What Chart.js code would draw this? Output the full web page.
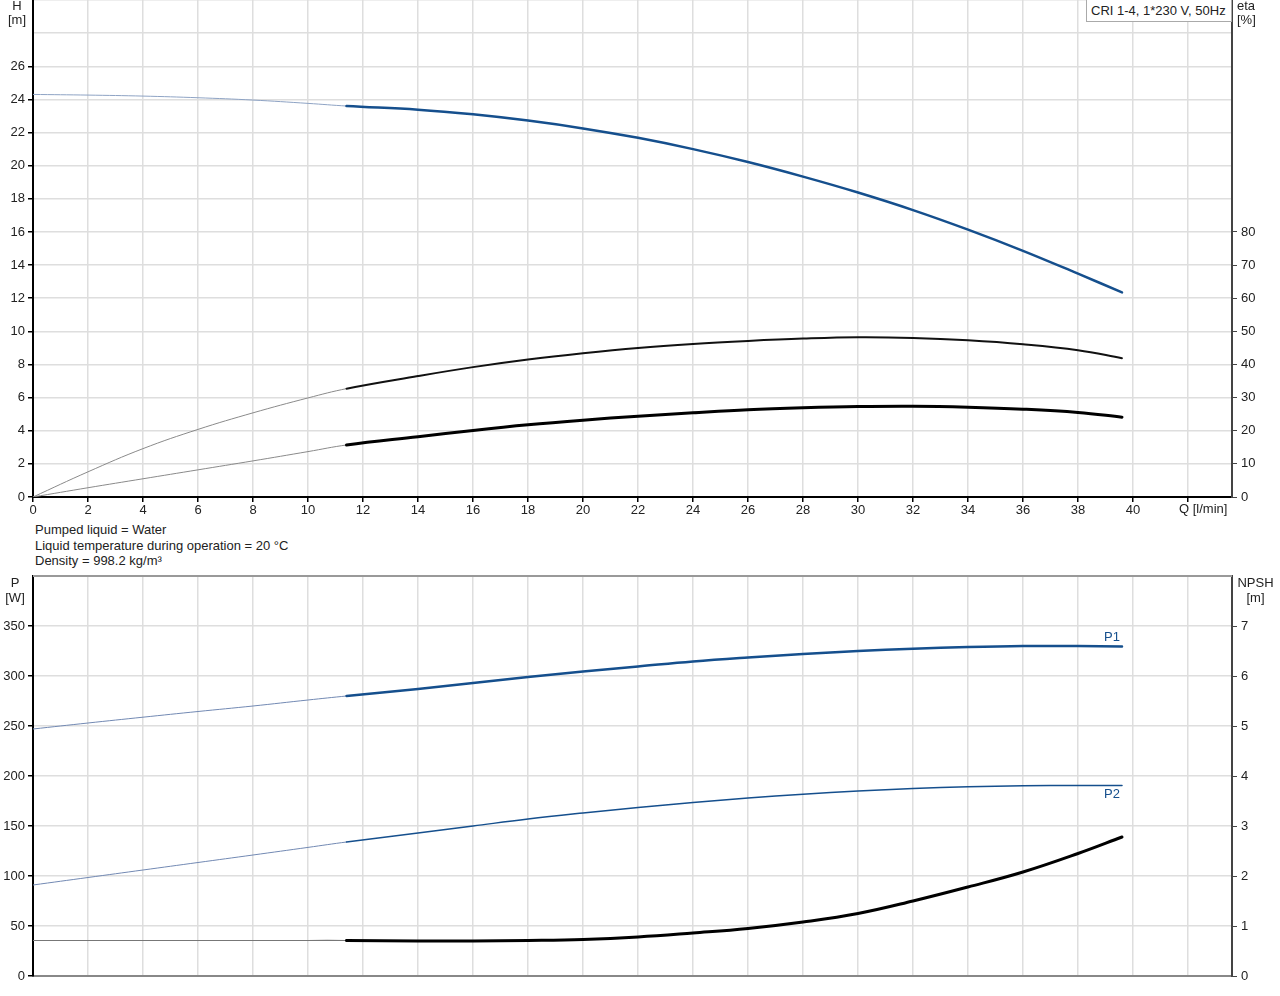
<!DOCTYPE html>
<html>
<head>
<meta charset="utf-8">
<script src="https://cdn.jsdelivr.net/npm/chart.js@4"></script>
<style>
  html, body { margin: 0; padding: 0; background: #fff; }
  body { width: 1280px; height: 996px; position: relative; overflow: hidden;
         font-family: "Liberation Sans", Arial, sans-serif; font-size: 13px; color: #222; }
  canvas { position: absolute; left: 0; }
  .lbl { position: absolute; line-height: 14px; white-space: nowrap; }
  .center { text-align: center; }
</style>
</head>
<body>
<canvas id="curveChart" width="1280" height="520" style="top:0"></canvas>
<canvas id="powerChart" width="1280" height="426" style="top:570px"></canvas>

<div class="lbl center" style="left:0;top:-1px;width:34px">H<br>[m]</div>
<div class="lbl" style="left:1237px;top:-1px">eta<br>[%]</div>
<div class="lbl" style="left:1086px;top:-1px;width:140px;height:21px;line-height:21px;padding-left:4px;border:1px solid #aaa;background:#fff">CRI 1-4, 1*230 V, 50Hz</div>
<div class="lbl" style="left:1179px;top:502px">Q [l/min]</div>
<div class="lbl" style="left:35px;top:522px;line-height:15.6px">Pumped liquid = Water<br>Liquid temperature during operation = 20 °C<br>Density = 998.2 kg/m³</div>
<div class="lbl center" style="left:0;top:575px;width:30px;line-height:15px">P<br>[W]</div>
<div class="lbl center" style="left:1237px;top:575px;width:37px;line-height:15px">NPSH<br>[m]</div>

<script>
// --- Data ---
// flow points (l/min); the curve is thin below SPLIT_Q and thick above it
const Q = [0, 2, 4, 6, 8, 10, 11.4, 14, 16, 18, 20, 22, 24, 26, 28, 30, 32, 34, 36, 38, 39.6];
const SPLIT_Q = 11.4;

// head (m)
const headH = [24.3, 24.26, 24.2, 24.1, 23.96, 23.76, 23.6, 23.38, 23.1, 22.72, 22.25, 21.68, 21.0, 20.22, 19.34, 18.38, 17.32, 16.14, 14.86, 13.48, 12.35];
// efficiencies (%)
const etaUpper = [0, 7.6, 14.6, 20.4, 25.4, 29.9, 32.7, 36.5, 39.2, 41.5, 43.4, 45.0, 46.2, 47.1, 47.8, 48.2, 48.0, 47.3, 46.1, 44.3, 41.9];
const etaLower = [0, 2.8, 5.5, 8.2, 10.9, 13.7, 15.7, 18.2, 20.1, 21.8, 23.2, 24.4, 25.4, 26.3, 26.9, 27.3, 27.4, 27.1, 26.5, 25.5, 24.1];
// power (W)
const powerP1 = [247, 253, 258.8, 264.5, 270, 276, 280, 287, 293, 299, 304.5, 309.5, 314.5, 318.5, 322, 325, 327.3, 329, 330, 330, 329.5];
const powerP2 = [91, 98.5, 106, 113.5, 121, 128.6, 134, 143, 150, 157, 163, 168.5, 173.5, 178, 181.8, 185, 187.5, 189.2, 190.2, 190.6, 190.5];
// NPSH (m)
const npsh = [0.71, 0.71, 0.71, 0.71, 0.71, 0.71, 0.71, 0.70, 0.70, 0.71, 0.73, 0.78, 0.86, 0.95, 1.08, 1.25, 1.5, 1.78, 2.08, 2.45, 2.78];

// axis ranges / tick settings
const Q_MAX = 43.6;
const H_MAX = 30, H_LAST_LABEL = 26;
const ETA_MAX = 150, ETA_LAST_LABEL = 80;
const P_MAX = 400, P_LAST_LABEL = 350;
const NPSH_MAX = 8, NPSH_LAST_LABEL = 7;

const BLUE = '#154f8d';
const FONT = { family: '"Liberation Sans", Arial, sans-serif', size: 13 };

Chart.defaults.animation = false;
Chart.defaults.font = FONT;
Chart.defaults.color = '#222';

function pts(ys) {
  return Q.map((q, i) => ({ x: q, y: ys[i] }));
}

// build a line dataset: thin light part before SPLIT_Q, heavier line after
function curve(ys, axis, thinColor, thickColor, thinW, thickW) {
  return {
    data: pts(ys),
    yAxisID: axis,
    borderColor: thickColor,
    borderWidth: thickW,
    pointRadius: 0,
    tension: 0.4,
    borderCapStyle: 'round',
    segment: {
      borderColor: ctx => ctx.p1.parsed.x <= SPLIT_Q ? thinColor : thickColor,
      borderWidth: ctx => ctx.p1.parsed.x <= SPLIT_Q ? thinW : thickW
    }
  };
}

// fixed axis sizes so both plots line up with the reference
function fixWidth(w) {
  return s => { s.width = w; s.paddingTop = 0; s.paddingBottom = 0; };
}
function fixHeight(h) {
  return s => { s.height = h; s.paddingLeft = 0; s.paddingRight = 0; };
}
function keepUpTo(limit) {
  return s => { s.ticks = s.ticks.filter(t => t.value <= limit + 1e-9); };
}

const GRID = '#dedede';

// --- Upper chart: H and eta vs Q ---
new Chart(document.getElementById('curveChart'), {
  type: 'line',
  data: {
    datasets: [
      curve(etaUpper, 'yEta', '#8a8a8a', '#111', 1, 2),
      curve(etaLower, 'yEta', '#8a8a8a', '#000', 1, 3),
      curve(headH, 'y', '#8ea3c4', BLUE, 1, 2.5)
    ]
  },
  options: {
    responsive: false,
    layout: { padding: 0 },
    plugins: { legend: { display: false }, tooltip: { enabled: false } },
    scales: {
      x: {
        type: 'linear', min: 0, max: Q_MAX,
        ticks: { stepSize: 2, includeBounds: false, padding: 1,
                 callback: v => v <= 40 ? String(v) : '' },
        grid: { color: GRID, lineWidth: 1.5, tickLength: 5, tickColor: '#000' },
        border: { color: '#000', width: 2 },
        afterFit: fixHeight(23)
      },
      y: {
        position: 'left', min: 0, max: H_MAX,
        ticks: { stepSize: 2, padding: 3,
                 callback: v => v <= H_LAST_LABEL ? String(v) : '' },
        grid: { color: GRID, lineWidth: 1.5, tickLength: 5,
                tickColor: c => c.tick && c.tick.value <= H_LAST_LABEL ? '#000' : 'transparent' },
        border: { color: '#000', width: 2 },
        afterFit: fixWidth(33)
      },
      yEta: {
        position: 'right', min: 0, max: ETA_MAX,
        ticks: { stepSize: 10, padding: 4 },
        afterBuildTicks: keepUpTo(ETA_LAST_LABEL),
        grid: { drawOnChartArea: false, tickLength: 5, tickColor: '#444' },
        border: { color: '#444', width: 2 },
        afterFit: fixWidth(48)
      }
    }
  }
});

// labels P1 / P2 next to the end of the power curves, plus the top frame line
const powerDecor = {
  id: 'powerDecor',
  afterDatasetsDraw(chart) {
    const { ctx, chartArea, scales } = chart;
    ctx.save();
    ctx.strokeStyle = '#999';
    ctx.lineWidth = 2;
    ctx.beginPath();
    ctx.moveTo(chartArea.left, chartArea.top);
    ctx.lineTo(chartArea.right, chartArea.top);
    ctx.stroke();

    const last = Q.length - 1;
    const xe = scales.x.getPixelForValue(Q[last]);
    ctx.fillStyle = BLUE;
    ctx.font = '13px "Liberation Sans", Arial, sans-serif';
    ctx.textAlign = 'right';
    ctx.textBaseline = 'middle';
    ctx.fillText('P1', xe - 2, scales.y.getPixelForValue(powerP1[last]) - 9);
    ctx.fillText('P2', xe - 2, scales.y.getPixelForValue(powerP2[last]) + 9);
    ctx.restore();
  }
};

// --- Lower chart: P1, P2 and NPSH vs Q ---
new Chart(document.getElementById('powerChart'), {
  type: 'line',
  data: {
    datasets: [
      curve(powerP1, 'y', '#7289b3', BLUE, 1, 2.5),
      curve(powerP2, 'y', '#7289b3', BLUE, 1, 1.5),
      curve(npsh, 'yNpsh', '#777', '#000', 1.2, 3)
    ]
  },
  plugins: [powerDecor],
  options: {
    responsive: false,
    layout: { padding: { top: 6 } },
    plugins: { legend: { display: false }, tooltip: { enabled: false } },
    scales: {
      x: {
        type: 'linear', min: 0, max: Q_MAX,
        ticks: { stepSize: 2, includeBounds: false, display: false },
        grid: { color: GRID, lineWidth: 1.5, drawTicks: false },
        border: { color: '#888', width: 2 },
        afterFit: fixHeight(20)
      },
      y: {
        position: 'left', min: 0, max: P_MAX,
        ticks: { stepSize: 50, padding: 3,
                 callback: v => v <= P_LAST_LABEL ? String(v) : '' },
        grid: { color: GRID, lineWidth: 1.5, tickLength: 5,
                tickColor: c => c.tick && c.tick.value <= P_LAST_LABEL ? '#000' : 'transparent' },
        border: { color: '#000', width: 2 },
        afterFit: fixWidth(33)
      },
      yNpsh: {
        position: 'right', min: 0, max: NPSH_MAX,
        ticks: { stepSize: 1, padding: 4 },
        afterBuildTicks: keepUpTo(NPSH_LAST_LABEL),
        grid: { drawOnChartArea: false, tickLength: 5, tickColor: '#444' },
        border: { color: '#444', width: 2 },
        afterFit: fixWidth(48)
      }
    }
  }
});
</script>
</body>
</html>
